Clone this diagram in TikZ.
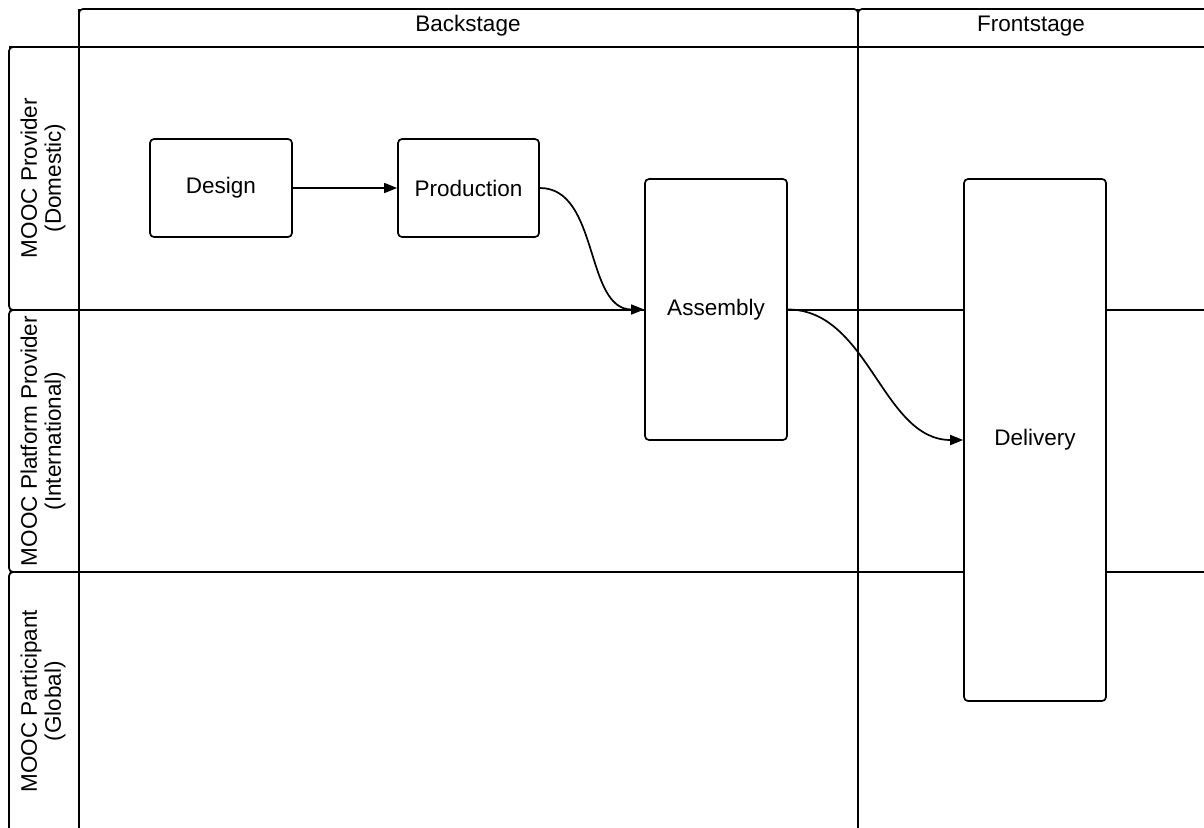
\documentclass[tikz,border=0pt]{standalone}
\usepackage{fontspec}
\setmainfont{Liberation Sans}
\usetikzlibrary{arrows.meta}
\begin{document}
\begin{tikzpicture}[x=1pt,y=-1pt,
  lane/.style={line width=1.7pt},
  proc/.style={draw,line width=1.7pt,rounded corners=4pt,fill=white,
    font=\fontsize{22.5}{25}\selectfont,inner sep=0pt},
  lbl/.style={font=\fontsize{22.5}{24}\selectfont,align=center},
  flow/.style={line width=1.7pt,-{Triangle[length=13pt,width=10pt]}}]
\useasboundingbox[fill=white] (0,0) rectangle (1204,827);
% column headers
\draw[lane,rounded corners=4pt] (79,47) -- (79,9) -- (858,9) -- (858,47);
\draw[lane,rounded corners=4pt] (858,47) -- (858,9) -- (1210,9);
\node[lbl] (hback) at (468,26) {Backstage};
\node[lbl] (hfront) at (1031,26) {Frontstage};
% lane headers
\draw[lane,rounded corners=4pt] (79,47) -- (9,47) -- (9,310) -- (79,310);
\draw[lane,rounded corners=4pt] (79,310) -- (9,310) -- (9,572) -- (79,572);
\draw[lane,rounded corners=4pt] (79,572) -- (9,572) -- (9,835);
\node[lbl,rotate=90] (l1) at (43,178) {MOOC Provider\\(Domestic)};
\node[lbl,rotate=90] (l2) at (43,441) {MOOC Platform Provider\\(International)};
\node[lbl,rotate=90] (l3) at (43,701) {MOOC Participant\\(Global)};
% grid lines
\draw[lane] (9,47) -- (1210,47);
\draw[lane] (79,310) -- (1210,310);
\draw[lane] (79,572) -- (1210,572);
\draw[lane] (79,9) -- (79,835);
\draw[lane] (858,9) -- (858,835);
% process boxes
\node[proc,minimum width=142pt,minimum height=98pt] (design) at (221,188) {Design};
\node[proc,minimum width=141pt,minimum height=98pt] (prod) at (468.5,188) {Production};
\node[proc,minimum width=142pt,minimum height=261pt] (asm) at (716,309.5) {Assembly};
\node[proc,minimum width=142pt,minimum height=522pt] (del) at (1035,440) {Delivery};
% connectors
\draw[flow] (design.east) -- (prod.east -| prod.west);
\draw[flow] (prod.east) to[out=0,in=180,looseness=0.95] (asm.west);
\draw[flow] (asm.east) to[out=0,in=180,looseness=0.95] (del.west);
\end{tikzpicture}
\end{document}
